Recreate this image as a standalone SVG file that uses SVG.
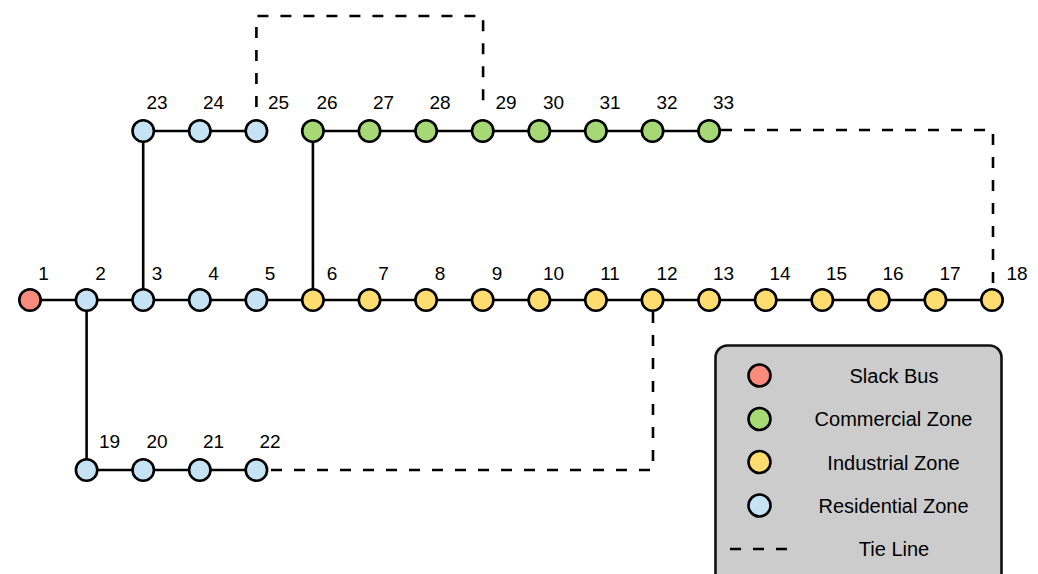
<svg xmlns="http://www.w3.org/2000/svg" width="1038" height="574" viewBox="0 0 1038 574">
<style>
.bg{fill:#ffffff}
.ln{stroke:#000;stroke-width:2.6;fill:none}
.tie{stroke:#000;stroke-width:2.6;fill:none;stroke-dasharray:11,12}
.n{stroke:#000;stroke-width:2.6}
.slack{fill:#f98b7d}
.com{fill:#a6d876}
.ind{fill:#ffdc70}
.res{fill:#c5e3f5}
.lbl{font-family:"Liberation Sans",Arial,sans-serif;font-size:19px;fill:#000;text-anchor:middle}
.leg{font-family:"Liberation Sans",Arial,sans-serif;font-size:20px;fill:#000;text-anchor:middle}
</style>
<rect class="bg" x="0" y="0" width="1038" height="574"/>
<g id="connectors">
<path class="ln" d="M30 300 H992"/>
<path class="ln" d="M143.2 131 V300"/>
<path class="ln" d="M312.9 131 V300"/>
<path class="ln" d="M86.6 300 V470"/>
<path class="ln" d="M143.2 131 H256.4"/>
<path class="ln" d="M312.9 131 H709.1"/>
<path class="ln" d="M86.6 470 H256.4"/>
<path class="tie" d="M256.4 107 V16 H483.1 V107"/>
<path class="tie" d="M721 130 H993 V288"/>
<path class="tie" d="M653 312 V470 H268"/>
</g>
<g id="node1"><circle class="n slack" cx="30" cy="300" r="10.7"/><text class="lbl" x="43.5" y="280">1</text></g>
<g id="node2"><circle class="n res" cx="86.6" cy="300" r="10.7"/><text class="lbl" x="100.5" y="280">2</text></g>
<g id="node3"><circle class="n res" cx="143.2" cy="300" r="10.7"/><text class="lbl" x="157" y="280">3</text></g>
<g id="node4"><circle class="n res" cx="199.8" cy="300" r="10.7"/><text class="lbl" x="213.5" y="280">4</text></g>
<g id="node5"><circle class="n res" cx="256.4" cy="300" r="10.7"/><text class="lbl" x="270" y="280">5</text></g>
<g id="node6"><circle class="n ind" cx="312.9" cy="300" r="10.7"/><text class="lbl" x="332" y="280">6</text></g>
<g id="node7"><circle class="n ind" cx="369.5" cy="300" r="10.7"/><text class="lbl" x="383.5" y="280">7</text></g>
<g id="node8"><circle class="n ind" cx="426.1" cy="300" r="10.7"/><text class="lbl" x="440" y="280">8</text></g>
<g id="node9"><circle class="n ind" cx="482.7" cy="300" r="10.7"/><text class="lbl" x="497" y="280">9</text></g>
<g id="node10"><circle class="n ind" cx="539.3" cy="300" r="10.7"/><text class="lbl" x="553.5" y="280">10</text></g>
<g id="node11"><circle class="n ind" cx="595.9" cy="300" r="10.7"/><text class="lbl" x="610" y="280">11</text></g>
<g id="node12"><circle class="n ind" cx="652.5" cy="300" r="10.7"/><text class="lbl" x="667" y="280">12</text></g>
<g id="node13"><circle class="n ind" cx="709.1" cy="300" r="10.7"/><text class="lbl" x="723.5" y="280">13</text></g>
<g id="node14"><circle class="n ind" cx="765.7" cy="300" r="10.7"/><text class="lbl" x="780" y="280">14</text></g>
<g id="node15"><circle class="n ind" cx="822.3" cy="300" r="10.7"/><text class="lbl" x="836.5" y="280">15</text></g>
<g id="node16"><circle class="n ind" cx="878.8" cy="300" r="10.7"/><text class="lbl" x="893" y="280">16</text></g>
<g id="node17"><circle class="n ind" cx="935.4" cy="300" r="10.7"/><text class="lbl" x="950" y="280">17</text></g>
<g id="node18"><circle class="n ind" cx="992" cy="300" r="10.7"/><text class="lbl" x="1017" y="280">18</text></g>
<g id="node19"><circle class="n res" cx="86.6" cy="470" r="10.7"/><text class="lbl" x="109.5" y="448">19</text></g>
<g id="node20"><circle class="n res" cx="143.2" cy="470" r="10.7"/><text class="lbl" x="157" y="448">20</text></g>
<g id="node21"><circle class="n res" cx="199.8" cy="470" r="10.7"/><text class="lbl" x="213.5" y="448">21</text></g>
<g id="node22"><circle class="n res" cx="256.4" cy="470" r="10.7"/><text class="lbl" x="270" y="448">22</text></g>
<g id="node23"><circle class="n res" cx="143.2" cy="131" r="10.7"/><text class="lbl" x="157" y="109">23</text></g>
<g id="node24"><circle class="n res" cx="199.8" cy="131" r="10.7"/><text class="lbl" x="213.5" y="109">24</text></g>
<g id="node25"><circle class="n res" cx="256.4" cy="131" r="10.7"/><text class="lbl" x="278.5" y="109">25</text></g>
<g id="node26"><circle class="n com" cx="312.9" cy="131" r="10.7"/><text class="lbl" x="327" y="109">26</text></g>
<g id="node27"><circle class="n com" cx="369.5" cy="131" r="10.7"/><text class="lbl" x="383.5" y="109">27</text></g>
<g id="node28"><circle class="n com" cx="426.1" cy="131" r="10.7"/><text class="lbl" x="440" y="109">28</text></g>
<g id="node29"><circle class="n com" cx="482.7" cy="131" r="10.7"/><text class="lbl" x="506" y="109">29</text></g>
<g id="node30"><circle class="n com" cx="539.3" cy="131" r="10.7"/><text class="lbl" x="553.5" y="109">30</text></g>
<g id="node31"><circle class="n com" cx="595.9" cy="131" r="10.7"/><text class="lbl" x="610" y="109">31</text></g>
<g id="node32"><circle class="n com" cx="652.5" cy="131" r="10.7"/><text class="lbl" x="667" y="109">32</text></g>
<g id="node33"><circle class="n com" cx="709.1" cy="131" r="10.7"/><text class="lbl" x="723.5" y="109">33</text></g>
<g id="legend">
<rect x="715.5" y="345.5" width="286" height="245" rx="12" ry="12" fill="#cccccc" stroke="#111" stroke-width="2.6"/>
<circle class="n slack" cx="759.5" cy="375.5" r="11"/>
<text class="leg" x="894" y="383">Slack Bus</text>
<circle class="n com" cx="759.5" cy="419" r="11"/>
<text class="leg" x="893.5" y="426">Commercial Zone</text>
<circle class="n ind" cx="759.5" cy="462" r="11"/>
<text class="leg" x="893.5" y="469.5">Industrial Zone</text>
<circle class="n res" cx="759.5" cy="505.5" r="11"/>
<text class="leg" x="893.5" y="513">Residential Zone</text>
<path class="tie" d="M730 549 H790"/>
<text class="leg" x="894" y="556">Tie Line</text>
</g>
</svg>
